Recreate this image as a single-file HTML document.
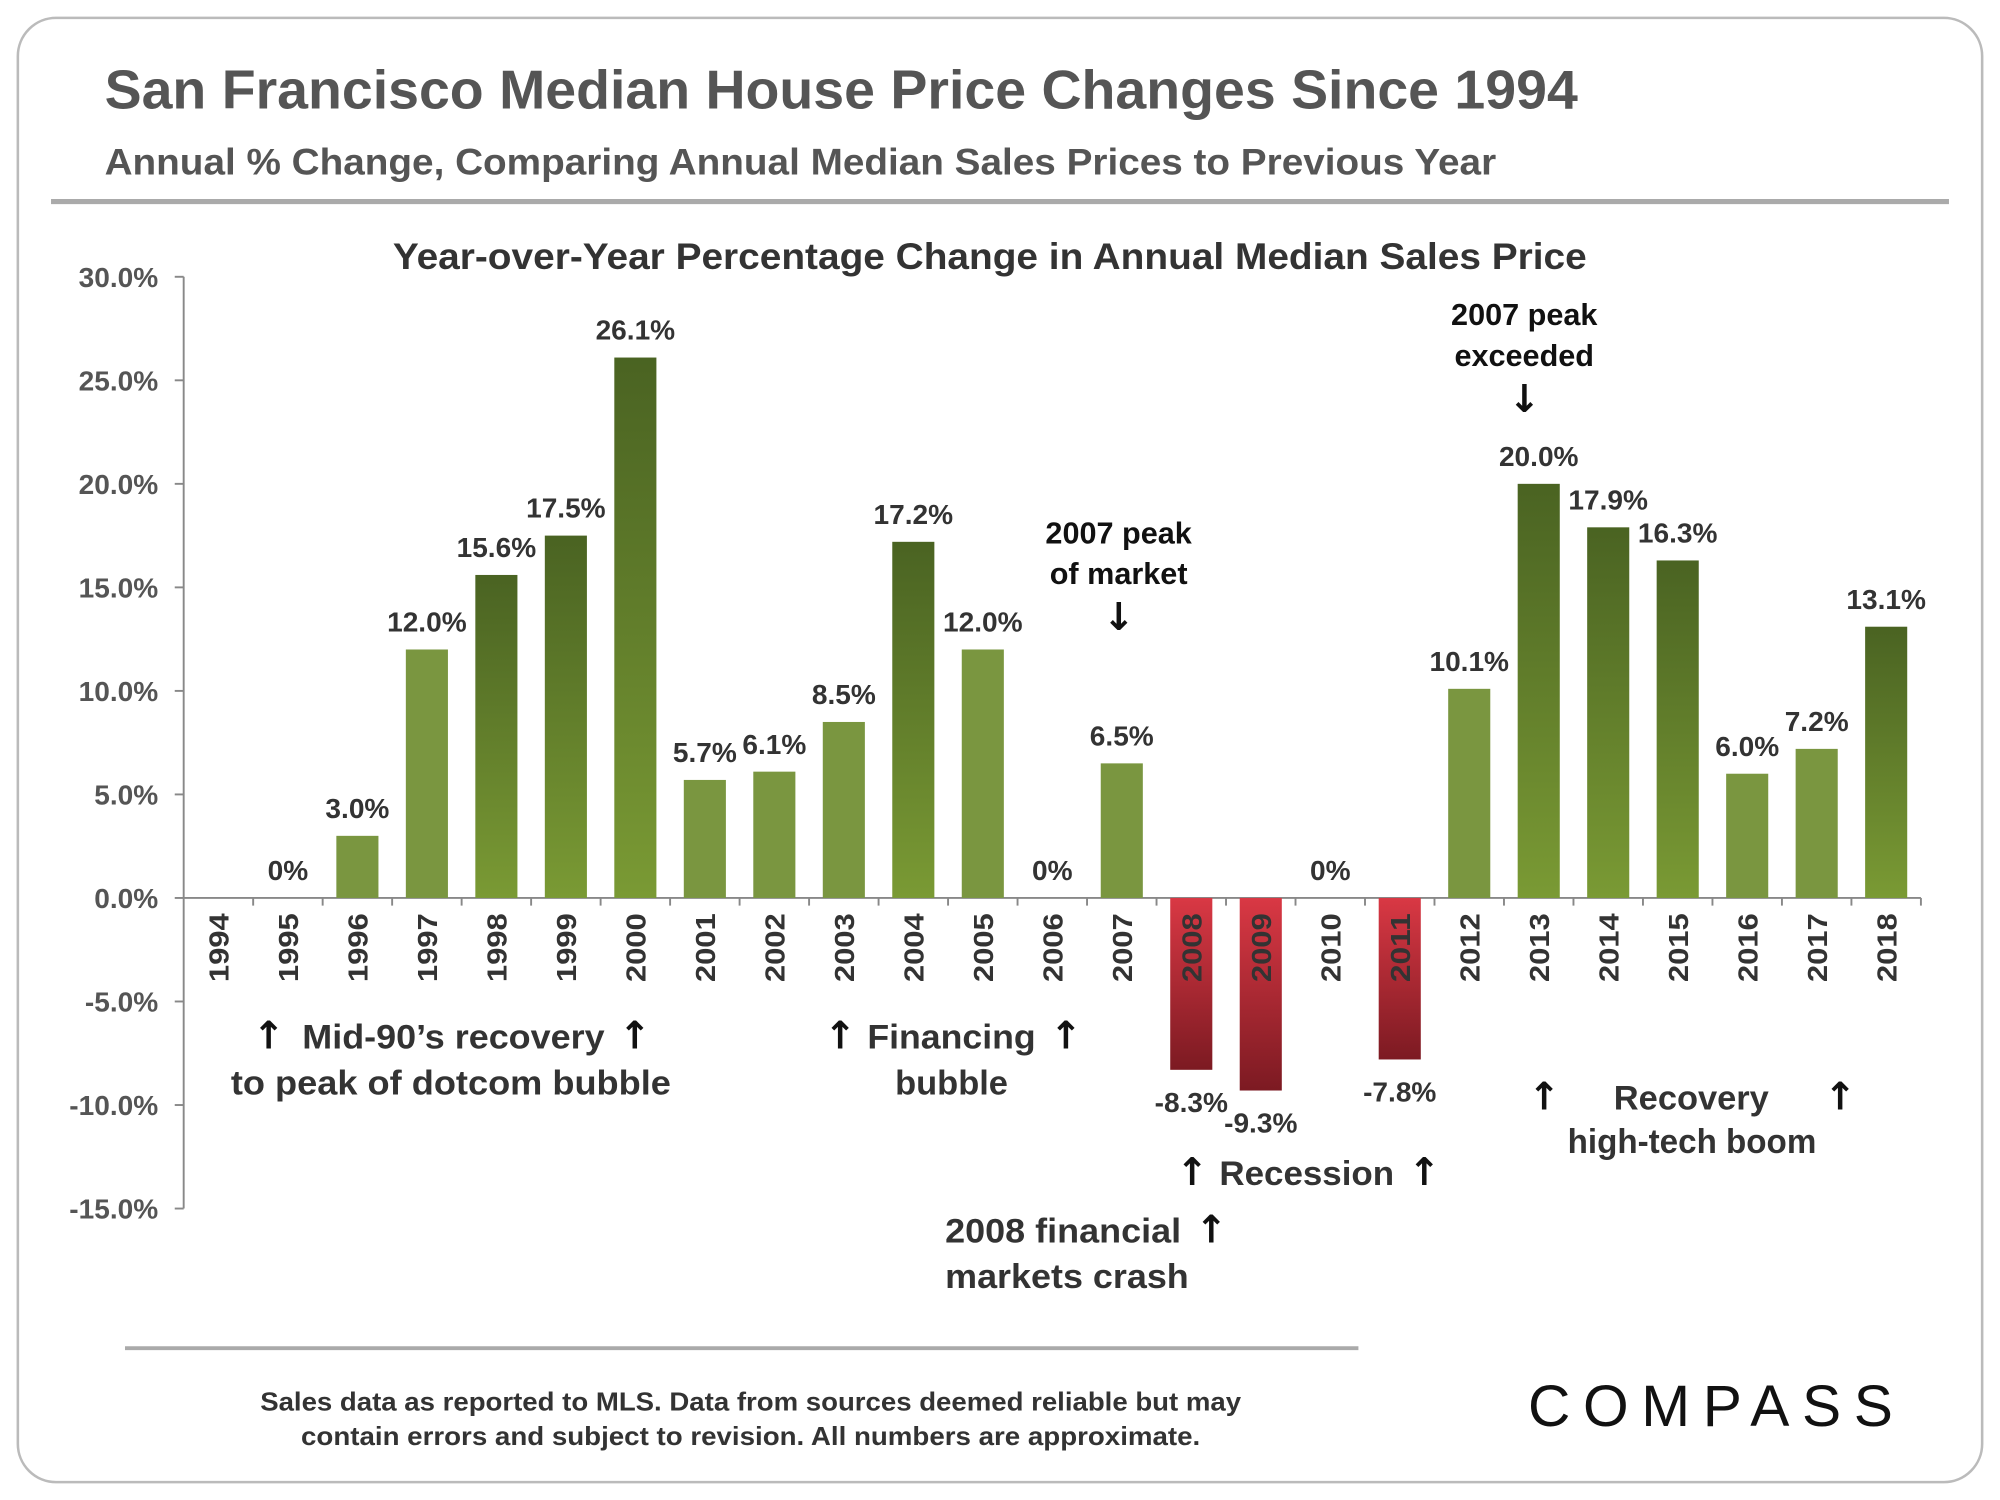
<!DOCTYPE html>
<html><head><meta charset="utf-8"><style>
html,body{margin:0;padding:0;background:#fff;}
svg{display:block;font-family:"Liberation Sans",Arial,sans-serif;font-weight:bold;}
.ar{font-family:"DejaVu Sans",sans-serif;font-size:30px;fill:#111;}
</style></head><body>
<svg id="chart" width="2000" height="1500" viewBox="0 0 1568 1176" xmlns="http://www.w3.org/2000/svg">
<defs>
<linearGradient id="gDark" x1="0" y1="0" x2="0" y2="1"><stop offset="0" stop-color="#4a6322"/><stop offset="1" stop-color="#7a9a34"/></linearGradient>
<linearGradient id="gRed" x1="0" y1="0" x2="0" y2="1"><stop offset="0" stop-color="#d93844"/><stop offset="1" stop-color="#7c1a22"/></linearGradient>
</defs>
<rect x="14" y="14" width="1540" height="1148" rx="30" fill="#fff" stroke="#bbb" stroke-width="2"/>
<text x="82" y="85" font-size="43" fill="#555" textLength="1155" lengthAdjust="spacingAndGlyphs">San Francisco Median House Price Changes Since 1994</text>
<text x="82" y="137" font-size="29" fill="#555" textLength="1091" lengthAdjust="spacingAndGlyphs">Annual % Change, Comparing Annual Median Sales Prices to Previous Year</text>
<line x1="40" y1="158" x2="1528" y2="158" stroke="#aaa" stroke-width="4"/>
<text x="308" y="211" font-size="29" fill="#333" textLength="936" lengthAdjust="spacingAndGlyphs">Year-over-Year Percentage Change in Annual Median Sales Price</text>
<g id="axes"></g>
<g id="bars"></g>
<g id="labels"></g>
<g fill="#333" font-size="27">
<text x="198" y="822" class="ar">↑</text>
<text x="237" y="822" textLength="237" lengthAdjust="spacingAndGlyphs">Mid-90’s recovery</text>
<text x="485" y="822" class="ar">↑</text>
<text x="181" y="858" textLength="345" lengthAdjust="spacingAndGlyphs">to peak of dotcom bubble</text>
<text x="646" y="822" class="ar">↑</text>
<text x="680" y="822" textLength="132" lengthAdjust="spacingAndGlyphs">Financing</text>
<text x="823" y="822" class="ar">↑</text>
<text x="746" y="858" text-anchor="middle">bubble</text>
<text x="922" y="929" class="ar">↑</text>
<text x="956" y="929" textLength="137" lengthAdjust="spacingAndGlyphs">Recession</text>
<text x="1104" y="929" class="ar">↑</text>
<text x="741" y="974" textLength="185" lengthAdjust="spacingAndGlyphs">2008 financial</text>
<text x="937" y="974" class="ar">↑</text>
<text x="741" y="1010" textLength="191" lengthAdjust="spacingAndGlyphs">markets crash</text>
<text x="1198" y="870" class="ar">↑</text>
<text x="1326" y="870" text-anchor="middle">Recovery</text>
<text x="1430" y="870" class="ar">↑</text>
<text x="1229" y="904" textLength="195" lengthAdjust="spacingAndGlyphs">high-tech boom</text>
<g fill="#111" font-size="24" text-anchor="middle">
<text x="877" y="426">2007 peak</text>
<text x="877" y="458">of market</text>
<text x="877" y="494" class="ar">↓</text>
<text x="1195" y="255">2007 peak</text>
<text x="1195" y="287">exceeded</text>
<text x="1195" y="323" class="ar">↓</text>
</g>
</g>
<line x1="98" y1="1057" x2="1065" y2="1057" stroke="#aaa" stroke-width="3"/>
<text x="204" y="1106" font-size="20" fill="#333" textLength="769" lengthAdjust="spacingAndGlyphs">Sales data as reported to MLS. Data from sources deemed reliable but may</text>
<text x="236" y="1133" font-size="20" fill="#333" textLength="705" lengthAdjust="spacingAndGlyphs">contain errors and subject to revision. All numbers are approximate.</text>
<text x="1198" y="1118" font-size="46" font-weight="normal" textLength="286" lengthAdjust="spacing" fill="#111">COMPASS</text>
</svg>
<script>
const years = ["1994","1995","1996","1997","1998","1999","2000","2001","2002","2003","2004","2005","2006","2007","2008","2009","2010","2011","2012","2013","2014","2015","2016","2017","2018"];
const values = [0,0,3.0,12.0,15.6,17.5,26.1,5.7,6.1,8.5,17.2,12.0,0,6.5,-8.3,-9.3,0,-7.8,10.1,20.0,17.9,16.3,6.0,7.2,13.1];
const valueLabels = ["","0%","3.0%","12.0%","15.6%","17.5%","26.1%","5.7%","6.1%","8.5%","17.2%","12.0%","0%","6.5%","-8.3%","-9.3%","0%","-7.8%","10.1%","20.0%","17.9%","16.3%","6.0%","7.2%","13.1%"];
const yTicks = [30,25,20,15,10,5,0,-5,-10,-15];
const yTickLabels = ["30.0%","25.0%","20.0%","15.0%","10.0%","5.0%","0.0%","-5.0%","-10.0%","-15.0%"];

const NS="http://www.w3.org/2000/svg";
const X0=144,X1=1506,Y30=217,Y0=704;
const yScale=v=>Y0-(v/30)*(Y0-Y30);
const band=(X1-X0)/years.length;
const xCenter=i=>X0+band*(i+0.5);
function mk(tag,attrs,parent){const e=document.createElementNS(NS,tag);for(const k in attrs)e.setAttribute(k,attrs[k]);parent.appendChild(e);return e;}
const axes=document.getElementById('axes'),barsG=document.getElementById('bars'),labG=document.getElementById('labels');

let yAxis=mk('line',{x1:X0,y1:yScale(30),x2:X0,y2:yScale(-15),stroke:'#888','stroke-width':1.5},axes);


yTicks.forEach((t,i)=>{
  const y=yScale(t);
  const tk=mk('line',{x1:X0-7,y1:y,x2:X0,y2:y,stroke:'#888','stroke-width':1.5},axes);
  
  
  const tx=mk('text',{x:124,y:y+8,'font-size':22,fill:'#555','text-anchor':'end'},axes);
  tx.textContent=yTickLabels[i];
  
  
});
let xAxis=mk('line',{x1:X0,y1:Y0,x2:X1,y2:Y0,stroke:'#888','stroke-width':1.5},axes);


for(let i=1;i<=years.length;i++){
  const x=X0+band*i;
  const tk=mk('line',{x1:x,y1:Y0,x2:x,y2:Y0+6,stroke:'#888','stroke-width':1.5},axes);
  
  
}
const bw=33;
values.forEach((v,i)=>{
  const cx=xCenter(i);
  if(v!==0){
    const fill=v<0?'url(#gRed)':(v>=13?'url(#gDark)':'#7a9640');
    const r=mk('rect',{x:cx-bw/2,y:Math.min(yScale(v),Y0),width:bw,height:Math.abs(yScale(v)-Y0),fill:fill},barsG);
    
    
  }
  if(valueLabels[i]){
    const ly=v<0?yScale(v)+33:yScale(v)-14;
    const t=mk('text',{x:cx,y:ly,'font-size':22,fill:'#333','text-anchor':'middle'},labG);
    t.textContent=valueLabels[i];
    
    
  }
  const yl=mk('text',{x:0,y:0,'font-size':22,fill:'#333','text-anchor':'end',textLength:54,lengthAdjust:'spacingAndGlyphs',transform:`translate(${cx+8},${Y0+12}) rotate(-90)`},labG);
  yl.textContent=years[i];
  
  
});
</script>
</body></html>
